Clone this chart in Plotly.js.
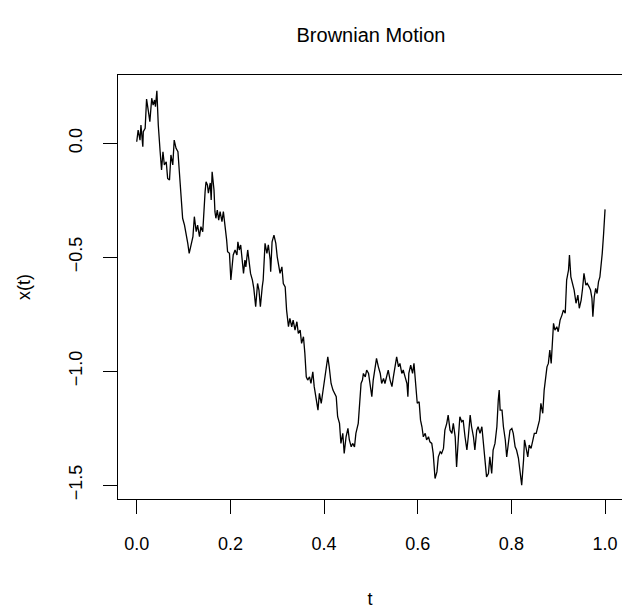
<!DOCTYPE html>
<html>
<head>
<meta charset="utf-8">
<script src="https://cdn.plot.ly/plotly-3.0.1.min.js"></script>
<style>
html,body{margin:0;padding:0;overflow:hidden;background:#fff;width:622px;height:609px;}
#chart{width:622px;height:609px;}
</style>
</head>
<body>
<div id="chart"></div>
<script>
// time points t and Brownian path values x(t)
const tValues = [0.000,0.003,0.007,0.009,0.013,0.014,0.018,0.021,0.025,0.028,0.032,0.035,0.038,0.040,0.043,0.046,0.050,0.053,0.056,0.059,0.063,0.066,0.070,0.073,0.077,0.080,0.084,0.088,0.091,0.094,0.098,0.102,0.105,0.109,0.112,0.116,0.120,0.123,0.127,0.130,0.134,0.137,0.141,0.146,0.148,0.151,0.153,0.157,0.159,0.161,0.165,0.167,0.169,0.172,0.175,0.178,0.182,0.185,0.189,0.192,0.194,0.198,0.201,0.204,0.206,0.210,0.214,0.216,0.219,0.222,0.225,0.228,0.231,0.233,0.237,0.240,0.243,0.247,0.250,0.254,0.258,0.261,0.264,0.268,0.270,0.274,0.278,0.281,0.285,0.286,0.289,0.293,0.297,0.300,0.303,0.306,0.310,0.313,0.317,0.320,0.324,0.327,0.331,0.334,0.338,0.342,0.345,0.349,0.352,0.356,0.359,0.362,0.365,0.369,0.372,0.376,0.379,0.383,0.387,0.390,0.394,0.397,0.401,0.404,0.408,0.411,0.415,0.419,0.422,0.426,0.429,0.433,0.436,0.440,0.443,0.447,0.451,0.454,0.458,0.461,0.465,0.468,0.473,0.477,0.479,0.482,0.484,0.488,0.491,0.495,0.498,0.502,0.505,0.509,0.512,0.516,0.520,0.523,0.527,0.530,0.534,0.537,0.541,0.545,0.548,0.552,0.555,0.559,0.562,0.566,0.569,0.573,0.577,0.579,0.581,0.585,0.589,0.592,0.596,0.599,0.603,0.606,0.609,0.612,0.616,0.619,0.623,0.626,0.630,0.633,0.637,0.641,0.644,0.648,0.651,0.655,0.658,0.662,0.665,0.669,0.673,0.676,0.680,0.683,0.687,0.690,0.694,0.697,0.701,0.705,0.708,0.712,0.715,0.719,0.722,0.726,0.729,0.733,0.737,0.740,0.744,0.747,0.751,0.754,0.758,0.761,0.765,0.769,0.772,0.774,0.776,0.780,0.783,0.787,0.790,0.794,0.797,0.801,0.804,0.808,0.811,0.815,0.819,0.822,0.826,0.828,0.831,0.835,0.838,0.842,0.846,0.849,0.853,0.856,0.860,0.863,0.867,0.870,0.873,0.876,0.879,0.882,0.885,0.887,0.890,0.893,0.897,0.900,0.904,0.908,0.911,0.915,0.918,0.922,0.924,0.927,0.931,0.934,0.938,0.942,0.945,0.949,0.952,0.955,0.959,0.962,0.966,0.969,0.972,0.974,0.977,0.980,0.983,0.986,0.989,0.992,0.994,0.997,1.000];
const xValues = [0.007,0.058,0.014,0.080,-0.015,0.051,0.066,0.194,0.139,0.095,0.198,0.168,0.190,0.161,0.230,0.080,-0.037,-0.117,-0.037,-0.095,-0.081,-0.154,-0.161,-0.051,-0.095,0.014,-0.022,-0.037,-0.125,-0.212,-0.329,-0.359,-0.388,-0.439,-0.483,-0.446,-0.410,-0.322,-0.388,-0.359,-0.410,-0.366,-0.388,-0.212,-0.169,-0.183,-0.219,-0.174,-0.249,-0.125,-0.205,-0.300,-0.329,-0.293,-0.337,-0.300,-0.344,-0.300,-0.359,-0.425,-0.476,-0.483,-0.600,-0.542,-0.490,-0.468,-0.490,-0.432,-0.468,-0.446,-0.512,-0.571,-0.512,-0.542,-0.468,-0.512,-0.571,-0.600,-0.637,-0.717,-0.615,-0.644,-0.717,-0.630,-0.600,-0.439,-0.483,-0.446,-0.512,-0.564,-0.432,-0.403,-0.439,-0.498,-0.542,-0.571,-0.542,-0.615,-0.630,-0.732,-0.805,-0.768,-0.805,-0.776,-0.820,-0.783,-0.834,-0.820,-0.878,-0.849,-0.922,-1.025,-1.039,-1.025,-1.054,-1.003,-1.068,-1.112,-1.171,-1.097,-1.141,-1.097,-1.039,-0.995,-0.937,-0.981,-1.054,-1.083,-1.097,-1.112,-1.200,-1.229,-1.317,-1.273,-1.361,-1.288,-1.251,-1.302,-1.332,-1.317,-1.332,-1.273,-1.229,-1.127,-1.054,-1.039,-1.010,-1.025,-0.995,-1.010,-1.054,-1.112,-1.039,-0.995,-0.944,-0.981,-1.010,-1.054,-1.032,-1.054,-1.025,-0.995,-1.039,-1.068,-1.025,-0.981,-0.937,-0.981,-0.966,-1.010,-0.995,-1.025,-1.054,-1.112,-1.010,-0.973,-1.010,-0.966,-1.083,-1.141,-1.134,-1.215,-1.244,-1.288,-1.273,-1.302,-1.288,-1.310,-1.317,-1.361,-1.471,-1.442,-1.376,-1.354,-1.361,-1.339,-1.259,-1.229,-1.193,-1.259,-1.273,-1.229,-1.288,-1.420,-1.288,-1.200,-1.222,-1.215,-1.288,-1.346,-1.288,-1.193,-1.244,-1.288,-1.346,-1.259,-1.244,-1.273,-1.244,-1.302,-1.376,-1.464,-1.449,-1.376,-1.449,-1.346,-1.317,-1.244,-1.127,-1.083,-1.171,-1.171,-1.244,-1.302,-1.376,-1.317,-1.259,-1.251,-1.273,-1.332,-1.346,-1.381,-1.469,-1.500,-1.390,-1.302,-1.332,-1.376,-1.324,-1.339,-1.302,-1.273,-1.273,-1.244,-1.215,-1.141,-1.185,-1.083,-1.025,-0.981,-0.966,-0.907,-0.966,-0.863,-0.790,-0.820,-0.805,-0.827,-0.776,-0.754,-0.732,-0.746,-0.600,-0.556,-0.490,-0.586,-0.615,-0.644,-0.702,-0.666,-0.724,-0.688,-0.637,-0.571,-0.622,-0.615,-0.630,-0.644,-0.680,-0.761,-0.673,-0.637,-0.659,-0.608,-0.586,-0.527,-0.483,-0.395,-0.290];
const xTicks = [0.0, 0.2, 0.4, 0.6, 0.8, 1.0];
const xTickLabels = ["0.0", "0.2", "0.4", "0.6", "0.8", "1.0"];
const yTicks = [0.0, -0.5, -1.0, -1.5];
const yTickLabels = ["0.0", "\u22120.5", "\u22121.0", "\u22121.5"];
const titleText = "Brownian Motion";
const xTitle = "t";
const yTitle = "x(t)";

const font = "Liberation Sans, Arial, Helvetica, sans-serif";

const trace = {
  x: tValues, y: xValues, type: "scatter", mode: "lines",
  line: {color: "#000000", width: 1.3}, hoverinfo: "skip", showlegend: false
};

const layout = {
  width: 622, height: 609,
  margin: {l: 118, r: 0, t: 75, b: 110},
  paper_bgcolor: "#ffffff", plot_bgcolor: "#ffffff",
  font: {family: font, color: "#000000", size: 18},
  title: {text: titleText, x: 0.502, xref: "paper", y: 1 - 35/609, yref: "container",
          xanchor: "center", yanchor: "middle", font: {family: font, size: 20, color: "#000"}},
  xaxis: {
    range: [-0.04, 1.0362], tickvals: xTicks, ticktext: xTickLabels,
    ticks: "outside", ticklen: 14, tickwidth: 1, tickcolor: "#000",
    showline: true, linecolor: "#000", linewidth: 1, mirror: true,
    showgrid: false, zeroline: false, ticklabelstandoff: 14,
    tickfont: {family: font, size: 18, color: "#000"},
    title: {text: xTitle, font: {family: font, size: 18, color: "#000"}, standoff: 42}
  },
  yaxis: {
    range: [-1.561, 0.2998], tickvals: yTicks, ticktext: yTickLabels,
    ticks: "outside", ticklen: 14, tickwidth: 1, tickcolor: "#000", tickangle: -90,
    showline: true, linecolor: "#000", linewidth: 1, mirror: false,
    showgrid: false, zeroline: false, ticklabelstandoff: 14,
    tickfont: {family: font, size: 18, color: "#000"},
    title: {text: yTitle, font: {family: font, size: 18, color: "#000"}, standoff: 30}
  }
};

Plotly.newPlot("chart", [trace], layout, {staticPlot: true, displayModeBar: false});
</script>
</body>
</html>
